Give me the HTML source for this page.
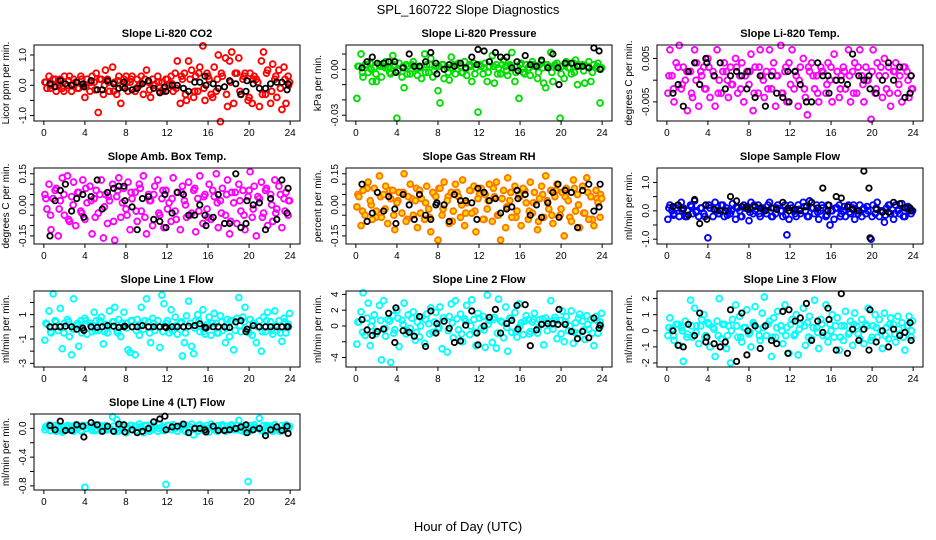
<!DOCTYPE html>
<html><head><meta charset="utf-8"><style>
body{margin:0;background:#fff;}
svg{display:block;font-family:"Liberation Sans",Arial,sans-serif;}
</style></head><body>
<svg id="chart" width="936" height="540" viewBox="0 0 936 540" xmlns="http://www.w3.org/2000/svg">
<rect width="936" height="540" fill="#fff"/>
<text x="468" y="14" font-size="13" text-anchor="middle">SPL_160722  Slope Diagnostics</text>
<text x="468" y="531" font-size="13" text-anchor="middle">Hour of Day (UTC)</text>
<g id="panels"></g>
</svg>
<script>
const xTickVals = [0,4,8,12,16,20,24];
const xsColor = [0.1,0.3,0.5,0.7,0.9,1.2,1.4,1.6,1.8,2.0,2.3,2.5,2.7,2.9,3.1,3.4,3.6,3.8,4.0,4.2,4.5,4.7,4.9,5.1,5.3,5.6,5.8,6.0,6.2,6.4,6.7,6.9,7.1,7.3,7.5,7.8,8.0,8.2,8.4,8.6,8.9,9.1,9.3,9.5,9.7,10.0,10.2,10.4,10.6,10.8,11.1,11.3,11.5,11.7,11.9,12.2,12.4,12.6,12.8,13.0,13.3,13.5,13.7,13.9,14.1,14.4,14.6,14.8,15.0,15.2,15.5,15.7,15.9,16.1,16.3,16.6,16.8,17.0,17.2,17.4,17.7,17.9,18.1,18.3,18.5,18.8,19.0,19.2,19.4,19.6,19.9,20.1,20.3,20.5,20.7,21.0,21.2,21.4,21.6,21.8,22.1,22.3,22.5,22.7,22.9,23.2,23.4,23.6,23.8,23.95];
const xsCore = [0.2,0.65,1.1,1.5,1.95,2.4,2.85,3.3,3.7,4.1,4.6,5.0,5.45,5.9,6.3,6.8,7.2,7.65,8.1,8.5,9.0,9.4,9.85,10.3,10.7,11.2,11.6,12.05,12.5,12.9,13.4,13.8,14.25,14.7,15.1,15.6,16.0,16.45,16.9,17.3,17.8,18.2,18.65,19.1,19.5,20.0,20.4,20.85,21.3,21.7,22.2,22.6,23.05,23.5,23.85];
const xsBlack = [0.6,1.1,1.6,2.1,2.7,3.2,3.8,3.9,4.6,5.2,5.7,6.2,6.8,7.3,7.8,7.9,8.6,9.1,9.6,10.2,10.7,11.3,11.8,11.9,12.5,13.0,13.6,14.1,14.7,15.2,15.7,15.8,16.5,17.0,17.6,18.1,18.7,19.2,19.7,19.8,20.4,21.0,21.6,22.1,22.7,23.2,23.7,23.8];

const co2Color = [0.1,-0.1,0.3,0.0,0.2,-0.2,0.1,0.2,-0.1,0.3, 0.0,0.3,-0.2,0.2,0.1,-0.1,0.3,0.0,-0.4,0.2, -0.2,0.3,0.1,0.4,-0.9,0.2,-0.3,0.5,0.2,-0.2, 0.6,0.1,-0.3,0.3,-0.6,0.2,0.3,-0.2,0.1,0.3, -0.2,0.2,0.0,0.3,-0.3,0.5,0.1,-0.4,0.2,0.0, 0.3,-0.2,0.1,-0.1,0.2,0.0,0.3,-0.2,0.4,0.8, -0.6,0.2,0.4,-0.5,0.8,0.5,-0.4,0.3,-0.2,0.6, 1.3,-0.5,0.4,0.2,-0.3,0.6,-0.2,1.0,-1.2,0.3, 0.9,-0.7,0.8,1.1,-0.6,0.4,0.9,-0.3,0.2,0.4, -0.5,0.4,-0.6,0.3,0.2,-0.7,0.8,1.1,-0.3,0.5, -0.6,0.7,0.2,-0.4,0.5,-0.8,0.6,-0.6,0.3,0.1];
const co2Core = [0.1,-0.1,0.2,0.0,-0.2,0.15,0.05,-0.1,0.2,-0.05,0.1,-0.15,0.2,0.0,0.1,-0.2,0.15,-0.05,0.1,0.2,-0.1,0.05,0.2,-0.15,0.0,0.1,-0.2,0.2,0.05,-0.1,0.3,-0.3,0.2,-0.2,0.4,-0.1,0.3,-0.4,0.2,0.4,-0.3,0.1,0.4,-0.2,0.3,-0.4,0.2,0.1,-0.3,0.4,-0.2,0.3,-0.1,0.2,0.0];
const co2Black = [0.05,-0.05,0.15,0.05,0.0,0.1,0.05,-0.05,0.15,-0.15,-0.15,0.15,0.05,-0.1,0.1,-0.1,-0.15,-0.1,0.05,0.15,-0.1,-0.25,-0.05,-0.2,0.0,0.0,-0.1,-0.2,0.1,0.1,0.3,0.0,0.05,-0.1,-0.05,0.15,0.05,-0.3,-0.2,0.15,0.05,-0.1,-0.1,0.05,0.1,0.1,-0.15,0.05];

const presColor = [-0.019,0.002,0.010,-0.005,0.003,-0.002,0.004,-0.008,0.001,-0.008, 0.003,-0.005,0.002,0.005,0.001,-0.003,0.009,0.002,-0.032,0.004, -0.005,-0.012,0.003,0.002,-0.003,0.005,0.001,-0.004,0.002,-0.006, 0.010,0.003,-0.002,0.007,-0.005,0.002,-0.014,-0.022,0.003,-0.006, 0.001,-0.007,0.008,0.003,-0.003,0.004,0.002,-0.002,0.005,-0.004, 0.003,-0.008,0.004,0.001,-0.028,0.002,-0.003,0.004,-0.008,0.002, 0.009,-0.009,0.003,0.001,-0.003,0.006,0.002,-0.004,0.003,0.011, -0.008,0.002,-0.019,0.004,-0.002,0.003,0.001,-0.004,0.005,0.002, -0.006,0.003,0.005,-0.009,-0.012,0.002,0.011,-0.008,0.003,0.004, -0.032,0.002,-0.006,0.005,0.001,-0.003,0.004,0.006,-0.010,0.002, 0.003,-0.009,0.002,0.005,-0.008,0.003,0.001,0.004,-0.022,0.001];
const presCore = [0.002,-0.002,0.003,0.000,-0.003,0.002,0.001,-0.002,0.003,-0.001,0.002,-0.003,0.003,0.000,0.001,-0.002,0.003,-0.001,0.002,0.003,-0.002,0.001,0.003,-0.002,0.000,0.002,-0.003,0.003,0.001,-0.002,0.002,-0.003,0.003,-0.001,0.002,-0.002,0.003,-0.003,0.001,0.003,-0.002,0.001,0.003,-0.002,0.002,-0.003,0.003,0.001,-0.002,0.003,-0.001,0.002,-0.002,0.002,0.000];
const presBlack = [0.001,0.005,0.008,0.004,0.004,0.005,0.005,-0.002,0.001,0.010,0.002,0.002,0.005,0.011,0.004,-0.003,0.000,0.003,0.002,0.004,0.001,0.008,0.003,0.013,0.012,0.005,0.011,0.008,0.008,0.001,0.005,-0.001,0.009,0.003,0.002,0.006,0.001,0.010,0.001,-0.010,0.004,0.004,0.002,0.002,0.001,0.014,0.012,0.000];

const tempColor = [-0.003,0.007,0.001,-0.005,0.004,0.008,-0.002,0.003,0.000,-0.007, 0.002,-0.004,0.007,0.004,-0.006,0.001,0.003,-0.002,0.005,-0.004, 0.002,-0.006,0.007,0.000,-0.003,0.004,0.002,-0.004,0.003,-0.001, 0.005,-0.003,0.001,0.004,-0.005,0.002,-0.001,0.006,-0.007,0.003, -0.003,0.007,0.001,-0.004,0.002,0.007,-0.002,0.004,-0.006,0.001, 0.008,-0.003,0.002,-0.005,0.004,0.007,-0.002,0.001,-0.006,0.003, 0.005,-0.004,-0.008,0.002,0.004,-0.002,0.001,-0.005,0.003,0.002, -0.003,0.004,0.000,-0.005,0.006,0.002,-0.004,0.001,0.003,-0.002, 0.007,-0.005,0.002,0.004,-0.003,0.007,0.001,-0.005,0.003,0.000, -0.009,0.007,-0.003,0.004,0.001,-0.004,0.005,-0.002,0.003,-0.006, 0.002,0.004,-0.003,0.001,-0.005,0.003,0.002,-0.004,0.001,-0.002];
const tempCore = [0.001,-0.002,0.003,-0.001,0.002,-0.003,0.000,0.002,-0.002,0.003,0.001,-0.003,0.002,0.000,-0.001,0.003,-0.002,0.001,0.002,-0.003,0.003,0.000,-0.002,0.002,0.001,-0.003,0.003,-0.001,0.002,0.000,-0.002,0.003,0.001,-0.003,0.002,-0.001,0.003,0.000,-0.002,0.002,0.001,-0.003,0.003,-0.001,0.000,0.002,-0.002,0.003,0.001,-0.003,0.002,-0.001,0.003,0.000,-0.002];
const tempBlack = [-0.003,-0.001,-0.006,0.002,0.004,-0.001,0.005,0.004,0.001,0.004,-0.002,0.001,0.002,0.001,-0.002,0.002,-0.004,0.001,-0.006,0.001,-0.003,-0.004,0.002,-0.005,0.002,-0.001,-0.005,-0.005,0.004,0.001,0.001,-0.003,0.000,0.000,-0.001,0.006,0.001,0.000,0.001,-0.002,-0.003,0.000,0.004,0.000,0.003,-0.004,-0.003,0.001];

const ambColor = [0.05,-0.02,0.10,-0.12,0.03,0.08,-0.15,0.02,0.13,-0.05, 0.14,-0.08,0.04,0.11,-0.10,0.06,-0.03,0.12,-0.07,0.01, 0.09,-0.14,0.03,0.07,-0.04,0.12,-0.16,0.05,-0.09,0.02, 0.10,-0.17,0.04,0.13,-0.06,0.08,-0.02,0.11,-0.12,0.03, 0.06,-0.08,0.10,-0.03,0.14,-0.14,0.05,0.02,-0.10,0.09, 0.12,-0.05,0.03,-0.11,0.07,0.01,-0.08,0.13,-0.03,0.06, -0.12,0.09,0.02,-0.06,0.11,-0.04,0.07,-0.13,0.03,0.14, -0.09,0.05,-0.02,0.10,-0.07,0.04,0.15,-0.11,0.02,0.08, -0.05,0.12,-0.14,0.06,0.01,-0.09,0.10,-0.03,0.07,-0.12, 0.04,0.16,-0.06,0.09,-0.15,0.03,0.11,-0.04,0.07,-0.10, 0.05,-0.08,0.12,-0.02,0.09,-0.11,0.03,0.06,-0.05,0.02];
const ambCore = [0.03,-0.05,0.07,-0.02,0.05,-0.07,0.00,0.06,-0.04,0.08,0.02,-0.06,0.05,-0.01,0.04,-0.08,0.07,0.01,-0.05,0.06,-0.03,0.08,-0.06,0.02,0.05,-0.04,0.07,-0.02,0.03,-0.07,0.06,0.00,-0.05,0.08,-0.03,0.04,-0.06,0.07,0.01,-0.04,0.05,-0.08,0.06,0.02,-0.05,0.07,-0.02,0.04,-0.06,0.08,0.00,-0.04,0.05,-0.03,0.02];
const ambBlack = [-0.15,0.02,0.07,0.10,-0.03,0.03,0.05,-0.06,0.04,0.12,-0.02,0.06,0.08,0.09,0.09,0.02,-0.01,-0.12,0.03,0.04,-0.07,-0.08,0.05,-0.11,-0.04,0.06,0.05,-0.05,-0.05,0.00,-0.05,-0.10,-0.06,0.05,-0.09,-0.09,0.15,-0.11,-0.09,0.02,0.00,0.01,-0.12,0.03,-0.07,0.12,-0.04,0.08];

const rhColor = [-0.01,0.04,-0.10,0.07,-0.05,0.11,0.02,-0.07,0.08,-0.03, 0.14,-0.06,0.05,0.09,-0.09,0.03,0.07,-0.12,0.01,0.06, -0.04,0.15,-0.08,0.04,0.10,-0.05,0.02,-0.11,0.07,0.03, -0.07,0.09,-0.02,-0.13,0.06,0.04,-0.17,0.08,-0.05,0.11, 0.02,-0.09,0.06,-0.03,0.10,0.04,-0.06,0.12,-0.10,0.01, 0.07,-0.04,0.09,-0.13,0.03,0.08,-0.07,0.05,-0.02,0.10, -0.08,0.04,0.11,-0.05,-0.17,0.07,-0.11,0.13,0.02,-0.06, 0.09,-0.03,0.05,-0.10,0.08,0.01,-0.07,0.11,-0.04,0.06, -0.12,0.03,0.09,-0.06,0.14,-0.02,0.07,-0.09,0.04,0.10, -0.05,0.06,-0.15,0.08,0.02,-0.08,0.12,-0.03,0.05,-0.11, 0.09,-0.04,0.13,-0.07,0.04,-0.10,0.07,0.01,-0.06,0.03];
const rhCore = [0.05,-0.03,0.08,0.00,-0.06,0.04,-0.02,0.07,-0.05,0.02,0.06,-0.07,0.03,0.08,-0.04,0.01,-0.06,0.05,0.08,-0.02,0.04,-0.08,0.06,0.00,-0.04,0.07,-0.03,0.05,-0.07,0.02,0.08,-0.05,0.03,-0.01,0.06,-0.06,0.04,0.07,-0.03,0.01,-0.08,0.05,0.02,-0.05,0.07,-0.02,0.04,-0.06,0.08,0.00,-0.04,0.06,-0.07,0.03,0.05];
const rhBlack = [0.10,-0.08,-0.04,0.06,-0.03,0.04,-0.02,-0.09,0.05,0.00,-0.07,0.05,-0.05,-0.07,0.00,0.01,0.00,-0.08,0.05,0.02,0.02,0.01,-0.07,0.08,0.06,0.02,0.03,-0.04,-0.02,-0.01,0.07,0.03,0.05,-0.05,0.00,-0.06,0.01,0.06,0.10,-0.06,0.07,0.06,-0.11,0.07,0.10,-0.03,-0.01,0.10];

const sampleColor = [-0.3,0.2,0.0,-0.1,0.1,-0.2,0.3,0.1,-0.2,0.0, 0.2,-0.1,0.35,0.0,-0.2,0.1,-0.1,0.2,-0.95,0.1, -0.2,0.3,0.0,-0.1,0.2,-0.2,0.1,0.0,-0.1,0.25, -0.3,0.1,0.0,-0.2,0.2,0.1,-0.35,0.3,-0.1,0.0, 0.2,-0.2,0.1,0.0,-0.1,0.3,-0.2,0.1,-0.1,0.2, 0.0,-0.2,0.2,-0.85,-0.3,0.1,0.0,-0.2,0.2,-0.1, 0.3,0.0,-0.2,0.35,0.1,-0.1,0.2,-0.3,0.0,0.1, -0.2,0.2,-0.5,0.0,-0.3,0.1,0.2,-0.1,0.0,-0.2, 0.2,-0.1,0.1,-0.3,0.0,0.2,-0.2,0.1,-0.1,0.0, -1.0,0.2,-0.1,0.3,-0.2,0.0,-0.4,0.1,0.2,-0.1, -0.3,0.2,0.0,-0.1,0.25,-0.2,0.1,0.0,-0.1,0.0];
const sampleCore = [0.1,-0.15,0.2,0.0,-0.2,0.15,-0.05,0.1,-0.2,0.2,0.05,-0.1,0.2,-0.15,0.0,0.15,-0.2,0.1,-0.05,0.2,-0.1,0.05,0.2,-0.2,0.1,0.0,-0.15,0.2,-0.1,0.05,0.15,-0.2,0.1,-0.05,0.2,-0.15,0.0,0.1,-0.2,0.15,-0.05,0.2,-0.1,0.05,0.15,-0.2,0.1,0.0,-0.15,0.2,-0.1,0.05,-0.2,0.15,0.0];
const sampleBlack = [0.15,0.2,0.05,-0.15,0.4,-0.45,0.2,-0.3,0.05,0.0,0.0,0.5,0.35,0.15,0.15,0.05,0.15,0.1,0.0,0.1,0.05,0.3,0.1,0.0,0.05,0.0,0.15,0.3,0.1,0.8,0.0,0.2,0.5,0.45,0.15,0.05,0.0,1.4,0.8,-0.95,0.05,-0.05,-0.05,0.3,0.25,0.1,0.1,0.0];

const line1Color = [-1.1,0.2,1.3,-0.5,2.7,0.4,-0.3,1.5,-1.8,0.3, 0.6,-0.8,-2.3,2.3,0.1,-1.6,0.5,-0.2,0.7,-0.6, 0.3,-0.4,1.2,0.5,-0.3,0.8,-1.4,0.2,-0.5,1.3, 0.4,1.6,-0.3,0.6,-0.8,1.2,0.3,-1.9,-2.1,0.5, -2.3,0.6,-0.7,1.6,-0.2,2.3,0.4,-1.3,0.7,-0.3, 0.5,-1.7,2.6,1.9,0.3,-0.5,1.4,-0.2,0.8,-0.6, 0.3,-2.4,-1.3,0.9,2.1,-1.6,-2.2,0.5,1.0,-0.4, 1.4,-0.6,0.2,0.8,-0.7,1.1,0.3,-0.5,0.9,-0.3, -1.3,0.6,-0.8,0.5,-1.9,0.7,2.4,-0.4,0.8,1.6, -0.2,0.6,-0.7,0.3,-1.3,0.5,-2.0,0.8,-0.4,1.2, 0.4,-0.6,1.3,-0.3,0.5,-1.2,0.7,-0.5,0.2,1.1];
const line1Core = [0.3,-0.4,0.5,0.0,-0.5,0.4,-0.2,0.3,-0.5,0.5,0.1,-0.3,0.5,-0.4,0.0,0.4,-0.5,0.3,-0.1,0.5,-0.3,0.2,0.5,-0.5,0.3,0.0,-0.4,0.5,-0.3,0.1,0.4,-0.5,0.3,-0.1,0.5,-0.4,0.0,0.3,-0.5,0.4,-0.1,0.5,-0.3,0.1,0.4,-0.5,0.3,0.0,-0.4,0.5,-0.3,0.1,-0.5,0.4,0.0];
const line1Black = [0.0,0.0,0.0,0.05,0.0,-0.2,-0.1,-0.3,0.0,-0.05,0.0,0.1,0.05,-0.05,0.0,0.05,0.0,0.0,0.1,0.0,0.0,0.0,0.0,-0.05,0.0,0.0,0.0,0.05,0.1,0.25,-0.05,-0.1,0.0,0.0,0.0,-0.05,0.4,0.5,-0.4,-0.2,0.1,0.0,0.0,0.0,0.0,0.0,0.0,0.0];

const line2Color = [-2.3,0.5,1.8,4.2,-1.2,2.9,-2.5,0.6,1.4,-0.7, 2.6,-4.3,3.2,-1.3,0.8,-4.6,1.3,-0.5,2.0,-2.6, 0.7,2.9,-1.0,1.4,-0.3,1.8,-1.8,0.5,-1.4,1.1, -2.2,1.5,0.3,2.3,-0.8,1.7,-0.4,2.4,-2.9,0.6, -3.3,1.2,2.8,-1.5,3.2,-0.5,1.5,-2.0,0.9,2.6, -1.1,3.3,0.8,-2.5,1.6,-0.3,1.2,-2.7,3.9,0.7, -2.1,1.1,-2.8,3.4,0.6,-1.5,2.4,-3.2,1.0,-0.8, 1.7,-1.4,2.8,0.4,-1.1,1.3,0.8,-0.7,0.5,1.6, -0.9,0.8,0.3,-2.4,1.0,0.6,3.2,-0.4,1.1,-1.6, 0.7,1.9,-2.0,1.2,-0.6,1.9,-2.2,0.4,-1.0,1.5, 0.6,-1.7,1.3,-0.4,0.8,-2.5,1.2,-0.9,0.5,1.6];
const line2Core = [0.5,-0.8,1.0,0.0,-1.0,0.7,-0.3,0.6,-0.9,1.0,0.2,-0.6,1.0,-0.8,0.0,0.8,-1.0,0.5,-0.2,1.0,-0.6,0.4,0.9,-1.0,0.6,0.0,-0.8,1.0,-0.5,0.2,0.8,-0.9,0.5,-0.2,1.0,-0.7,0.0,0.6,-1.0,0.8,-0.2,0.9,-0.6,0.2,0.7,-1.0,0.5,0.0,-0.8,1.0,-0.5,0.2,-0.9,0.7,0.0];
const line2Black = [0.8,-0.5,-1.2,-0.7,-0.4,1.6,-2.1,2.3,-0.6,-0.8,-1.3,1.2,-2.6,1.9,-0.9,0.3,0.6,-0.3,-2.1,-1.9,0.1,1.9,-0.9,-2.4,0.0,1.1,2.1,-0.9,0.3,0.7,2.6,-0.4,2.7,-2.5,-0.5,0.2,0.3,0.3,0.2,2.1,0.2,-0.7,-1.6,-0.7,-1.5,1.0,-0.3,0.1];

const line3Color = [-0.3,0.8,0.1,-0.6,0.4,-0.9,0.2,-1.9,0.6,-0.2, 1.9,-0.4,1.4,0.3,-0.8,0.7,1.0,-0.3,0.5,-1.0, 0.2,-1.6,0.6,2.0,-0.5,0.4,-1.1,0.3,-2.0,0.7, 1.6,-0.4,0.9,-0.7,0.2,1.3,-0.2,-1.0,0.5,1.5, 0.1,-0.6,1.1,2.1,-0.3,0.6,-1.6,0.8,-0.4,1.2, 0.3,-0.8,1.6,0.2,-1.4,0.7,-0.3,1.0,-1.5,0.4, 1.4,-0.9,0.5,0.9,-0.5,1.9,0.2,-1.1,0.7,-0.3, 1.6,-0.7,0.4,1.0,-0.4,0.8,-1.2,0.3,-0.6,1.2, -0.2,0.6,-0.9,1.1,0.3,-0.5,0.7,-0.8,0.4,1.4, -0.6,0.3,1.0,-0.4,0.7,-1.1,1.1,0.2,-0.5,0.8, 0.4,-0.7,0.9,-0.2,0.5,-1.2,0.3,0.9,-0.4,0.6];
const line3Core = [0.2,-0.3,0.4,0.0,-0.4,0.3,-0.1,0.3,-0.4,0.4,0.1,-0.3,0.4,-0.3,0.0,0.3,-0.4,0.2,-0.1,0.4,-0.3,0.2,0.4,-0.4,0.2,0.0,-0.3,0.4,-0.2,0.1,0.3,-0.4,0.2,-0.1,0.4,-0.3,0.0,0.3,-0.4,0.3,-0.1,0.4,-0.2,0.1,0.3,-0.4,0.2,0.0,-0.3,0.4,-0.2,0.1,-0.4,0.3,0.0];
const line3Black = [0.0,-0.9,-1.0,0.4,-0.3,1.1,-0.7,-0.4,-0.8,-1.0,-0.7,1.3,-1.9,1.1,-1.5,0.0,0.3,-1.1,0.3,-0.6,-0.8,1.2,-1.4,1.3,0.6,0.8,1.7,-0.6,0.6,-0.1,1.4,0.7,-1.2,2.3,-1.4,0.1,-0.6,0.1,-1.2,1.3,-0.7,0.0,-1.0,0.1,-0.3,-0.1,0.5,-0.6];

const line4Color = [-0.02,0.03,0.05,-0.03,0.01,-0.04,0.04,0.00,-0.05,0.02, 0.04,-0.02,0.03,-0.04,0.05,0.01,-0.03,0.04,-0.82,0.00, 0.02,-0.03,0.05,-0.01,0.03,-0.04,0.02,0.04,-0.02,0.01, 0.16,-0.04,0.12,0.02,-0.03,0.05,-0.06,0.01,0.04,-0.02, 0.03,-0.05,0.06,0.01,-0.06,0.04,-0.02,0.05,-0.01,0.03, -0.04,0.06,0.02,-0.03,-0.78,0.04,-0.02,0.05,0.00,-0.04, 0.03,0.05,-0.02,0.04,-0.05,0.06,-0.09,0.01,-0.04,0.05, 0.02,-0.03,0.04,-0.05,0.06,0.01,-0.03,0.04,-0.02,0.05, -0.04,0.03,0.00,0.05,-0.02,0.04,0.11,-0.03,0.02,-0.05, -0.74,0.04,-0.02,0.05,0.01,0.14,-0.03,0.04,-0.05,0.02, 0.03,-0.04,0.05,0.01,-0.03,0.04,-0.02,0.05,0.00,0.03];
const line4Core = [0.02,-0.03,0.04,0.00,-0.04,0.03,-0.01,0.03,-0.04,0.04,0.01,-0.03,0.04,-0.03,0.00,0.03,-0.04,0.02,-0.01,0.04,-0.03,0.02,0.04,-0.04,0.02,0.00,-0.03,0.04,-0.02,0.01,0.03,-0.04,0.02,-0.01,0.04,-0.03,0.00,0.03,-0.04,0.03,-0.01,0.04,-0.02,0.01,0.03,-0.04,0.02,0.00,-0.03,0.04,-0.02,0.01,-0.04,0.03,0.00];
const line4Black = [0.04,-0.02,0.10,-0.03,-0.03,0.05,0.03,-0.12,0.08,0.05,-0.04,0.03,-0.04,0.06,0.05,-0.05,-0.02,-0.06,-0.04,0.00,0.09,0.13,0.17,-0.02,0.02,0.03,0.06,-0.06,0.00,0.00,-0.02,-0.05,0.03,-0.03,-0.03,-0.02,0.00,0.02,0.05,-0.06,-0.02,0.00,-0.10,-0.02,0.02,-0.03,0.03,-0.07];

const panels = [
 {name:'co2',title:'Slope Li-820 CO2',ylab:'Licor ppm per min.',col:0,row:0,ymin:-1.18,ymax:1.33,ticks:[-1,-0.5,0,0.5,1],labels:{'-1':'-1.0','0':'0.0','1':'1.0'},stroke:'#ff0000',fill:'none',c:co2Color,k:co2Core,b:co2Black},
 {name:'pressure',title:'Slope Li-820 Pressure',ylab:'kPa per min.',col:1,row:0,ymin:-0.0338,ymax:0.0159,ticks:[-0.03,-0.02,-0.01,0,0.01],labels:{'0':'0.00','-0.03':'-0.03'},stroke:'#00dd00',fill:'none',c:presColor,k:presCore,b:presBlack},
 {name:'temp',title:'Slope Li-820 Temp.',ylab:'degrees C per min.',col:2,row:0,ymin:-0.0094,ymax:0.0081,ticks:[-0.005,0,0.005],labels:{'0.005':'0.005','-0.005':'-0.005'},stroke:'#ff00ff',fill:'none',c:tempColor,k:tempCore,b:tempBlack},
 {name:'amb-box-temp',title:'Slope Amb. Box Temp.',ylab:'degrees C per min.',col:0,row:1,ymin:-0.189,ymax:0.178,ticks:[-0.15,-0.1,-0.05,0,0.05,0.1,0.15],labels:{'0.15':'0.15','0':'0.00','-0.15':'-0.15'},stroke:'#ff00ff',fill:'none',c:ambColor,k:ambCore,b:ambBlack},
 {name:'gas-stream-rh',title:'Slope Gas Stream RH',ylab:'percent per min.',col:1,row:1,ymin:-0.189,ymax:0.178,ticks:[-0.15,-0.1,-0.05,0,0.05,0.1,0.15],labels:{'0.15':'0.15','0':'0.00','-0.15':'-0.15'},stroke:'#ff7700',fill:'#ffdd00',c:rhColor,k:rhCore,b:rhBlack},
 {name:'sample-flow',title:'Slope Sample Flow',ylab:'ml/min per min.',col:2,row:1,ymin:-1.17,ymax:1.51,ticks:[-1,-0.5,0,0.5,1],labels:{'-1':'-1.0','0':'0.0','1':'1.0'},stroke:'#0000ff',fill:'none',c:sampleColor,k:sampleCore,b:sampleBlack},
 {name:'line1-flow',title:'Slope Line 1 Flow',ylab:'ml/min per min.',col:0,row:2,ymin:-3.3,ymax:2.94,ticks:[-3,-2,-1,0,1,2],labels:{'-3':'-3','-1':'-1','1':'1'},stroke:'#00ffff',fill:'none',c:line1Color,k:line1Core,b:line1Black},
 {name:'line2-flow',title:'Slope Line 2 Flow',ylab:'ml/min per min.',col:1,row:2,ymin:-5.2,ymax:4.43,ticks:[-4,-2,0,2,4],labels:{'-4':'-4','0':'0','2':'2','4':'4'},stroke:'#00ffff',fill:'none',c:line2Color,k:line2Core,b:line2Black},
 {name:'line3-flow',title:'Slope Line 3 Flow',ylab:'ml/min per min.',col:2,row:2,ymin:-2.25,ymax:2.47,ticks:[-2,-1,0,1,2],labels:{'-2':'-2','-1':'-1','0':'0','1':'1','2':'2'},stroke:'#00ffff',fill:'none',c:line3Color,k:line3Core,b:line3Black},
 {name:'line4-flow',title:'Slope Line 4 (LT) Flow',ylab:'ml/min per min.',col:0,row:3,ymin:-0.857,ymax:0.2,ticks:[-0.8,-0.6,-0.4,-0.2,0,0.2],labels:{'0':'0.0','-0.4':'-0.4','-0.8':'-0.8'},stroke:'#00ffff',fill:'none',c:line4Color,k:line4Core,b:line4Black}
];

const NS='http://www.w3.org/2000/svg';
const colLefts=[34,346,657], rowTops=[45,168,291,414], W=266, H=76;
const root=document.getElementById('panels');
function mk(tag,attrs,parent){const e=document.createElementNS(NS,tag);for(const k in attrs)e.setAttribute(k,attrs[k]);parent.appendChild(e);return e;}

panels.forEach(p=>{
  const L=colLefts[p.col], T=rowTops[p.row];
  const xs=v=>L+(v+0.96)/25.92*W;
  const ys=v=>T+H-(v-p.ymin)/(p.ymax-p.ymin)*H;
  const g=mk('g',{},root);
  
  
  const t=mk('text',{x:L+W/2,y:T-8,'font-size':11,'font-weight':'bold','text-anchor':'middle'},g);
  t.textContent=p.title;
  
  
  const yl=mk('text',{x:0,y:0,'font-size':10,'text-anchor':'middle',transform:`translate(${L-25},${T+H/2}) rotate(-90)`},g);
  yl.textContent=p.ylab;
  
  
  const pts=mk('g',{},g);
  
  
  const nk=Math.min(xsCore.length,p.k.length);
  for(let i=0;i<nk;i++){
    const c=mk('circle',{cx:xs(xsCore[i]).toFixed(1),cy:ys(p.k[i]).toFixed(1),r:2.9,fill:p.fill,stroke:p.stroke,'stroke-width':1.9},pts);
    
    
  }
  const n=Math.min(xsColor.length,p.c.length);
  for(let i=0;i<n;i++){
    const c=mk('circle',{cx:xs(xsColor[i]).toFixed(1),cy:ys(p.c[i]).toFixed(1),r:2.9,fill:p.fill,stroke:p.stroke,'stroke-width':1.9},pts);
    
    
  }
  const bpts=mk('g',{},g);
  
  
  const nb=Math.min(xsBlack.length,p.b.length);
  for(let i=0;i<nb;i++){
    const c=mk('circle',{cx:xs(xsBlack[i]).toFixed(1),cy:ys(p.b[i]).toFixed(1),r:2.7,fill:'none',stroke:'#000','stroke-width':1.8},bpts);
    
    
  }
  const box=mk('rect',{x:L,y:T,width:W,height:H,fill:'none',stroke:'#000','stroke-width':1},g);
  
  
  const xa=mk('g',{},g);
  
  
  mk('line',{x1:xs(0),x2:xs(24),y1:T+H,y2:T+H,stroke:'#000'},xa);
  xTickVals.forEach(v=>{
    mk('line',{x1:xs(v),x2:xs(v),y1:T+H,y2:T+H+4,stroke:'#000'},xa);
    const tl=mk('text',{x:xs(v),y:T+H+15,'font-size':10,'text-anchor':'middle'},xa);
    tl.textContent=String(v);
    
    
  });
  const ya=mk('g',{},g);
  
  
  mk('line',{x1:L,x2:L,y1:ys(p.ticks[0]),y2:ys(p.ticks[p.ticks.length-1]),stroke:'#000'},ya);
  p.ticks.forEach(v=>{
    mk('line',{x1:L-4,x2:L,y1:ys(v),y2:ys(v),stroke:'#000'},ya);
    const lab=p.labels[String(v)];
    if(lab!==undefined){
      const tl=mk('text',{x:0,y:0,'font-size':10,'text-anchor':'middle',transform:`translate(${L-8},${ys(v)}) rotate(-90)`},ya);
      tl.textContent=lab;
      
      
    }
  });
});
</script>
</body></html>
